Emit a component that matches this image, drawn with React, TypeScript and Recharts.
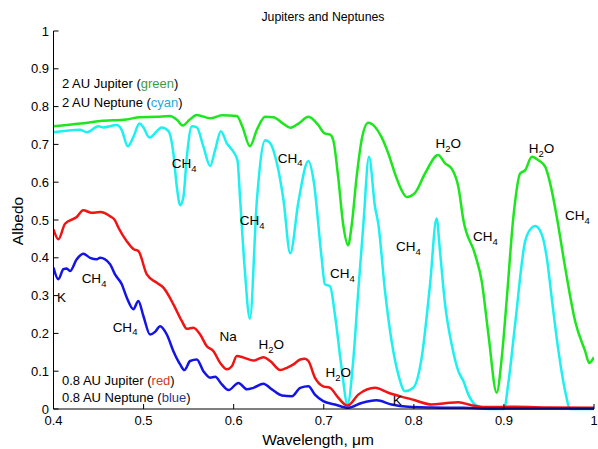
import React from "react";
import { LineChart, Line, XAxis, YAxis, ReferenceDot } from "recharts";

// 2 AU Jupiter (green)
const jupiter2Wl = [
  0.4, 0.43, 0.452, 0.481, 0.496, 0.515, 0.529, 0.537, 0.5436, 0.551, 0.559, 0.574, 0.587, 0.6035,
  0.61, 0.618, 0.626, 0.635, 0.644, 0.655, 0.663, 0.672, 0.683, 0.694, 0.701, 0.707, 0.7106, 0.716,
  0.7217, 0.727, 0.731, 0.7365, 0.742, 0.7494, 0.757, 0.764, 0.7717, 0.779, 0.7864, 0.792, 0.8013,
  0.8124, 0.827, 0.8347, 0.842, 0.8494, 0.855, 0.868, 0.8753, 0.8828, 0.892, 0.8976, 0.903, 0.9106,
  0.918, 0.9236, 0.931, 0.9383, 0.9458, 0.953, 0.9587, 0.968, 0.979, 0.9902, 0.9947, 1.0,
];
const jupiter2Albedo = [
  0.748, 0.755, 0.762, 0.766, 0.772, 0.773, 0.775, 0.765, 0.75, 0.765, 0.778, 0.769, 0.777, 0.775,
  0.745, 0.695, 0.74, 0.773, 0.772, 0.755, 0.744, 0.755, 0.773, 0.751, 0.729, 0.726, 0.711, 0.614,
  0.486, 0.433, 0.486, 0.614, 0.711, 0.757, 0.746, 0.72, 0.676, 0.623, 0.579, 0.561, 0.572,
  0.623, 0.672, 0.65, 0.636, 0.588, 0.5, 0.409, 0.339, 0.197, 0.043, 0.136, 0.286, 0.51,
  0.623, 0.632, 0.667, 0.658, 0.641, 0.579, 0.508, 0.374, 0.233, 0.153, 0.122, 0.137,
];

// 2 AU Neptune (cyan)
const neptune2Wl = [
  0.4, 0.4294, 0.437, 0.45, 0.4553, 0.47, 0.4758, 0.4824, 0.4887, 0.4954, 0.4998, 0.5064, 0.5202,
  0.5276, 0.5331, 0.5369, 0.5406, 0.5442, 0.548, 0.5536, 0.5591, 0.5664, 0.5739, 0.5794, 0.5858,
  0.5924, 0.5998, 0.6042, 0.6072, 0.612, 0.618, 0.6258, 0.635, 0.6406, 0.648, 0.6553, 0.6628, 0.672,
  0.683, 0.689, 0.6976, 0.7013, 0.707, 0.7124, 0.7198, 0.7264, 0.733, 0.7383, 0.744, 0.7502, 0.7569,
  0.7606, 0.768, 0.7753, 0.7828, 0.7902, 0.7994, 0.8087, 0.818, 0.8253, 0.829, 0.8347, 0.842, 0.8494,
  0.855, 0.8606, 0.868, 0.8828, 0.9, 0.905, 0.9124, 0.9236, 0.931, 0.9347, 0.942, 0.9476, 0.953,
  0.9606, 0.968, 0.9736, 1.0,
];
const neptune2Albedo = [
  0.732, 0.739, 0.732, 0.748, 0.745, 0.751, 0.738, 0.695, 0.72, 0.755, 0.745, 0.718, 0.745,
  0.735, 0.676, 0.588, 0.539, 0.561, 0.667, 0.748, 0.745, 0.694, 0.643, 0.685, 0.735,
  0.703, 0.68, 0.658, 0.553, 0.38, 0.239, 0.553, 0.711, 0.703, 0.65, 0.553, 0.412, 0.55,
  0.656, 0.6, 0.401, 0.33, 0.325, 0.25, 0.109, 0.012, 0.136, 0.312, 0.489, 0.667, 0.535,
  0.489, 0.312, 0.18, 0.091, 0.047, 0.056, 0.136, 0.33, 0.504, 0.418, 0.277, 0.171, 0.1,
  0.074, 0.038, 0.012, 0.0, 0.0, 0.07, 0.224, 0.444, 0.48, 0.484, 0.462, 0.4, 0.295,
  0.153, 0.047, 0.0, 0.0,
];

// 0.8 AU Jupiter (red)
const jupiter08Wl = [
  0.4, 0.4054, 0.4128, 0.4258, 0.433, 0.4424, 0.4517, 0.4628, 0.4683, 0.472, 0.4813, 0.4887, 0.4942,
  0.5036, 0.5147, 0.522, 0.5331, 0.5424, 0.548, 0.5553, 0.5628, 0.5702, 0.5776, 0.585, 0.5924, 0.598,
  0.6035, 0.611, 0.622, 0.633, 0.6406, 0.6517, 0.6591, 0.6664, 0.6739, 0.679, 0.683, 0.6902, 0.6994,
  0.707, 0.716, 0.7264, 0.7383, 0.757, 0.7717, 0.7902, 0.8013, 0.8198, 0.8347, 0.8494, 0.8642, 0.879,
  0.9124, 0.95, 1.0,
];
const jupiter08Albedo = [
  0.475, 0.449, 0.49, 0.508, 0.526, 0.519, 0.521, 0.51, 0.499, 0.48, 0.444, 0.423, 0.418,
  0.356, 0.334, 0.321, 0.277, 0.233, 0.212, 0.215, 0.197, 0.166, 0.153, 0.122, 0.105, 0.113,
  0.14, 0.136, 0.128, 0.137, 0.127, 0.103, 0.109, 0.118, 0.131, 0.133, 0.127, 0.083, 0.06,
  0.056, 0.03, 0.009, 0.038, 0.056, 0.043, 0.03, 0.023, 0.012, 0.015, 0.018, 0.01, 0.005,
  0.006, 0.004, 0.003,
];

// 0.8 AU Neptune (blue)
const neptune08Wl = [
  0.4, 0.4054, 0.411, 0.4147, 0.4183, 0.4258, 0.433, 0.4406, 0.448, 0.4517, 0.4628, 0.4683, 0.4758,
  0.4813, 0.4887, 0.4942, 0.4998, 0.5072, 0.5128, 0.5183, 0.5258, 0.5331, 0.5406, 0.5453, 0.5517,
  0.5591, 0.5664, 0.5739, 0.5794, 0.5869, 0.5942, 0.6054, 0.6147, 0.622, 0.633, 0.6424, 0.6536,
  0.6647, 0.6739, 0.683, 0.6902, 0.6994, 0.7124, 0.7272, 0.742, 0.7587, 0.7753, 0.7939, 0.82, 0.855,
  0.89, 1.0,
];
const neptune08Albedo = [
  0.374, 0.343, 0.37, 0.372, 0.365, 0.396, 0.411, 0.4, 0.396, 0.4, 0.383, 0.356, 0.33,
  0.295, 0.264, 0.286, 0.246, 0.197, 0.204, 0.219, 0.197, 0.153, 0.118, 0.103, 0.127,
  0.131, 0.1, 0.083, 0.085, 0.065, 0.05, 0.069, 0.052, 0.056, 0.067, 0.052, 0.036,
  0.034, 0.056, 0.06, 0.038, 0.021, 0.012, 0.003, 0.016, 0.023, 0.012, 0.006, 0.004, 0.003,
  0.001, 0.001,
];

const xTicks = [0.4, 0.5, 0.6, 0.7, 0.8, 0.9, 1];
const yTicks = [0, 0.1, 0.2, 0.3, 0.4, 0.5, 0.6, 0.7, 0.8, 0.9, 1];

// annotations: [wavelength, albedo, main text, subscript, trailing text]
const annotations: [number, number, string, string, string][] = [
  [0.545, 0.65, "CH", "4", ""],
  [0.6206, 0.499, "CH", "4", ""],
  [0.6628, 0.665, "CH", "4", ""],
  [0.445, 0.346, "CH", "4", ""],
  [0.4794, 0.218, "CH", "4", ""],
  [0.4089, 0.297, "K", "", ""],
  [0.5939, 0.192, "Na", "", ""],
  [0.6417, 0.171, "H", "2", "O"],
  [0.7161, 0.097, "H", "2", "O"],
  [0.7206, 0.359, "CH", "4", ""],
  [0.7939, 0.43, "CH", "4", ""],
  [0.8794, 0.457, "CH", "4", ""],
  [0.7817, 0.025, "K", "", ""],
  [0.8383, 0.703, "H", "2", "O"],
  [0.9417, 0.69, "H", "2", "O"],
  [0.9817, 0.5126, "CH", "4", ""],
];

// legend notes: [wavelength, albedo, label, colour word, colour]
const notes: [number, number, string, string, string][] = [
  [0.4094, 0.862, "2 AU Jupiter", "green", "#3c9d3c"],
  [0.4094, 0.813, "2 AU Neptune", "cyan", "#2aa9e0"],
  [0.4094, 0.0755, "0.8 AU Jupiter", "red", "#d43a2a"],
  [0.4094, 0.032, "0.8 AU Neptune", "blue", "#2b3990"],
];

const zip = (wl: number[], al: number[]) => wl.map((w, i) => ({ wl: w, albedo: al[i] }));

const FONT = "'Liberation Sans', Arial, sans-serif";

const fmt = (v: number) => (v === 0 || v === 1 ? String(v) : v.toFixed(1));

export default function App() {
  const series = [
    { data: zip(jupiter2Wl, jupiter2Albedo), color: "#1ee61e" },
    { data: zip(neptune2Wl, neptune2Albedo), color: "#1ef0f0" },
    { data: zip(jupiter08Wl, jupiter08Albedo), color: "#f01414" },
    { data: zip(neptune08Wl, neptune08Albedo), color: "#1414e6" },
  ];

  return (
    <div style={{ position: "relative", width: 598, height: 449, background: "#fff", fontFamily: FONT }}>
      <style>{"body{margin:0}"}</style>
      <LineChart width={598} height={449} margin={{ top: 31, right: 4, bottom: 0, left: 0 }}>
        <XAxis
          type="number"
          dataKey="wl"
          domain={[0.4, 1]}
          ticks={xTicks}
          tickFormatter={fmt}
          height={40}
          tickSize={-5}
          tickMargin={12}
          stroke="#000"
          tick={{ fill: "#000", fontSize: 13, fontFamily: FONT }}
          allowDataOverflow
        />
        <YAxis
          type="number"
          domain={[0, 1]}
          ticks={yTicks}
          tickFormatter={fmt}
          width={53.5}
          tickSize={-5}
          tickMargin={9.5}
          stroke="#000"
          tick={{ fill: "#000", fontSize: 13, fontFamily: FONT }}
        />
        {series.map((s, i) => (
          <Line
            key={i}
            data={s.data}
            dataKey="albedo"
            type="monotone"
            stroke={s.color}
            strokeWidth={2.5}
            dot={false}
            isAnimationActive={false}
          />
        ))}
        {annotations.map(([x, y, main, sub, tail], i) => (
          <ReferenceDot
            key={`a${i}`}
            x={x}
            y={y}
            r={0}
            ifOverflow="visible"
            shape={(p: any) => (
              <text x={p.cx} y={p.cy + 5} textAnchor="middle" fontSize={13.5} fontFamily={FONT} fill="#000">
                {main}
                {sub && (
                  <tspan dy={3.5} fontSize={9.5}>
                    {sub}
                  </tspan>
                )}
                {tail && <tspan dy={-3.5}>{tail}</tspan>}
              </text>
            )}
          />
        ))}
        {notes.map(([x, y, label, word, color], i) => (
          <ReferenceDot
            key={`n${i}`}
            x={x}
            y={y}
            r={0}
            ifOverflow="visible"
            shape={(p: any) => (
              <text x={p.cx} y={p.cy + 5} textAnchor="start" fontSize={13} fontFamily={FONT} fill="#000">
                {label} (<tspan fill={color}>{word}</tspan>)
              </text>
            )}
          />
        ))}
      </LineChart>
      <div
        style={{
          position: "absolute",
          left: 323,
          top: 16.5,
          transform: "translate(-50%, -50%)",
          fontSize: 12.3,
          lineHeight: 1,
          whiteSpace: "nowrap",
        }}
      >
        Jupiters and Neptunes
      </div>
      <div
        style={{
          position: "absolute",
          left: 18,
          top: 221,
          transform: "translate(-50%, -50%) rotate(-90deg)",
          fontSize: 15.5,
          lineHeight: 1,
          whiteSpace: "nowrap",
        }}
      >
        Albedo
      </div>
      <div
        style={{
          position: "absolute",
          left: 318,
          top: 440,
          transform: "translate(-50%, -50%)",
          fontSize: 15.5,
          lineHeight: 1,
          whiteSpace: "nowrap",
        }}
      >
        Wavelength, μm
      </div>
    </div>
  );
}
